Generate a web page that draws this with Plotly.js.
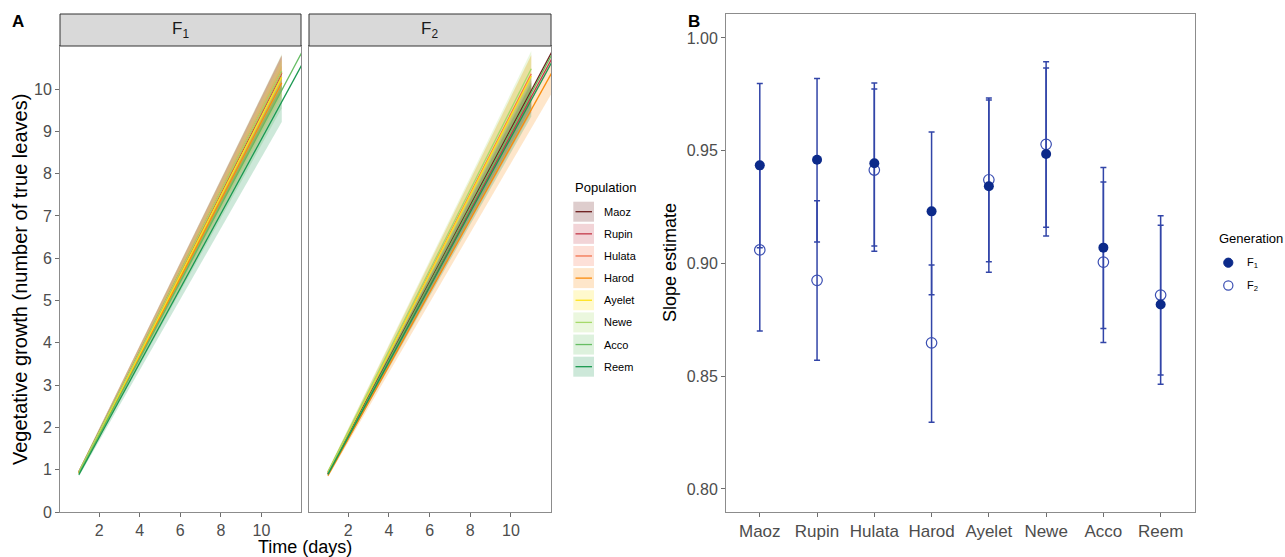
<!DOCTYPE html>
<html>
<head>
<meta charset="utf-8">
<script src="https://cdn.plot.ly/plotly-3.0.1.min.js"></script>
<style>html,body{margin:0;padding:0;background:#fff;}#chart{width:1285px;height:557px;}</style>
</head>
<body>
<div id="chart"></div>
<script>
// ---------- Data ----------
const populations = ['Maoz', 'Rupin', 'Hulata', 'Harod', 'Ayelet', 'Newe', 'Acco', 'Reem'];

// Panel A, F1: fitted lines (value at day 1 and at the last day) and ribbons
const f1LineStart  = [0.94, 0.95, 0.94, 0.92, 0.93, 0.95, 0.91, 0.88];
const f1LineEndDay = [11, 11, 11, 11, 11, 11, 12, 12];
const f1LineEnd    = [10.38, 10.41, 10.39, 10.15, 10.28, 10.43, 10.88, 10.58];
const f1RibEndDay  = [11, 11, 11, 11, 11, 11, 11, 11];
const f1RibLoStart = [0.90, 0.91, 0.90, 0.88, 0.89, 0.91, 0.87, 0.84];
const f1RibHiStart = [0.98, 0.99, 0.98, 0.96, 0.97, 0.99, 0.95, 0.92];
const f1RibLoEnd   = [9.95, 10.00, 9.98, 9.75, 9.86, 10.03, 9.55, 9.22];
const f1RibHiEnd   = [10.80, 10.80, 10.78, 10.55, 10.70, 10.83, 10.40, 10.10];

// Panel A, F2
const f2LineStart  = [0.91, 0.89, 0.94, 0.86, 0.94, 0.95, 0.90, 0.89];
const f2LineEndDay = [12, 12, 11, 12, 11, 11, 12, 12];
const f2LineEnd    = [10.87, 10.71, 10.36, 10.38, 10.31, 10.48, 10.81, 10.63];
const f2RibEndDay  = [11, 11, 11, 12, 11, 11, 11, 11];
const f2RibLoStart = [0.87, 0.85, 0.90, 0.82, 0.90, 0.91, 0.86, 0.85];
const f2RibHiStart = [0.95, 0.93, 0.98, 0.91, 0.98, 0.99, 0.94, 0.93];
const f2RibLoEnd   = [9.57, 9.45, 9.90, 9.90, 9.85, 10.00, 9.50, 9.35];
const f2RibHiEnd   = [10.37, 10.20, 10.80, 10.85, 10.80, 10.90, 10.30, 10.15];
const startDay = 1;

// Panel B: slope estimates with confidence limits
const f1Est = [0.9435, 0.9460, 0.9444, 0.9231, 0.9342, 0.9485, 0.9070, 0.8818];
const f1Lo  = [0.9070, 0.9095, 0.9077, 0.8861, 0.8961, 0.9122, 0.8712, 0.8464];
const f1Hi  = [0.9798, 0.9820, 0.9800, 0.9583, 0.9725, 0.9867, 0.9425, 0.9169];
const f2Est = [0.9060, 0.8925, 0.9414, 0.8648, 0.9371, 0.9528, 0.9006, 0.8860];
const f2Lo  = [0.8700, 0.8571, 0.9054, 0.8296, 0.9008, 0.9160, 0.8650, 0.8505];
const f2Hi  = [0.9420, 0.9278, 0.9774, 0.8993, 0.9734, 0.9894, 0.9361, 0.9212];

const xTicksA = [2, 4, 6, 8, 10];
const yTicksA = [0, 1, 2, 3, 4, 5, 6, 7, 8, 9, 10];
const yTicksB = [0.80, 0.85, 0.90, 0.95, 1.00];

// ---------- Styles ----------
const lineColors = ['#6b1d1d', '#c4394b', '#f4734f', '#fa8c0c', '#ffe21a', '#a6d96a', '#66bd63', '#1a9850'];
function rgba(hex, a) {
  const r = parseInt(hex.slice(1, 3), 16), g = parseInt(hex.slice(3, 5), 16), b = parseInt(hex.slice(5, 7), 16);
  return 'rgba(' + r + ',' + g + ',' + b + ',' + a + ')';
}
const FONT = 'Liberation Sans, Arial, sans-serif';
const W = 1285, H = 557;
const px = v => v / W;
const py = v => 1 - v / H;

const traces = [];
function addPanel(xa, ya, lS, lED, lE, rED, rLS, rHS, rLE, rHE) {
  populations.forEach((p, i) => {
    traces.push({
      type: 'scatter', mode: 'lines', xaxis: xa, yaxis: ya,
      x: [startDay, rED[i], rED[i], startDay],
      y: [rLS[i], rLE[i], rHE[i], rHS[i]],
      fill: 'toself', fillcolor: rgba(lineColors[i], 0.22),
      line: {width: 0}, showlegend: false, hoverinfo: 'skip'
    });
  });
  populations.forEach((p, i) => {
    traces.push({
      type: 'scatter', mode: 'lines', xaxis: xa, yaxis: ya, name: p,
      x: [startDay, lED[i]], y: [lS[i], lE[i]],
      line: {color: lineColors[i], width: 1.3}, showlegend: false
    });
  });
}
addPanel('x', 'y', f1LineStart, f1LineEndDay, f1LineEnd, f1RibEndDay, f1RibLoStart, f1RibHiStart, f1RibLoEnd, f1RibHiEnd);
addPanel('x2', 'y2', f2LineStart, f2LineEndDay, f2LineEnd, f2RibEndDay, f2RibLoStart, f2RibHiStart, f2RibLoEnd, f2RibHiEnd);

const barColor = '#3245a8';
traces.push({
  type: 'scatter', mode: 'markers', xaxis: 'x3', yaxis: 'y3', name: 'F2',
  x: populations, y: f2Est,
  error_y: {type: 'data', symmetric: false,
    array: f2Hi.map((h, i) => h - f2Est[i]), arrayminus: f2Lo.map((l, i) => f2Est[i] - l),
    color: barColor, thickness: 1.5, width: 3},
  marker: {symbol: 'circle-open', size: 10.5, color: '#3a4eb2', line: {width: 1.2}},
  showlegend: false
});
traces.push({
  type: 'scatter', mode: 'markers', xaxis: 'x3', yaxis: 'y3', name: 'F1',
  x: populations, y: f1Est,
  error_y: {type: 'data', symmetric: false,
    array: f1Hi.map((h, i) => h - f1Est[i]), arrayminus: f1Lo.map((l, i) => f1Est[i] - l),
    color: barColor, thickness: 1.5, width: 3},
  marker: {symbol: 'circle', size: 10, color: '#0c2a8a'},
  showlegend: false
});

// ---------- Layout ----------
const axisCommon = {
  showline: true, mirror: true, linecolor: '#8c8c8c', linewidth: 1,
  ticks: 'outside', ticklen: 4, tickcolor: '#6e6e6e', tickwidth: 1,
  showgrid: false, zeroline: false,
  tickfont: {family: FONT, size: 16, color: '#4d4d4d'}
};
const yA = [0, 11.02];
const layout = {
  width: W, height: H, autosize: false,
  margin: {l: 0, r: 0, t: 0, b: 0},
  paper_bgcolor: '#ffffff', plot_bgcolor: '#ffffff',
  font: {family: FONT, color: '#000'},
  showlegend: false,
  xaxis: Object.assign({}, axisCommon, {domain: [px(60), px(301)], range: [0.07, 11.95], tickvals: xTicksA, anchor: 'y'}),
  yaxis: Object.assign({}, axisCommon, {domain: [1 - 512 / H, 1 - 46 / H], range: yA, tickvals: yTicksA, anchor: 'x'}),
  xaxis2: Object.assign({}, axisCommon, {domain: [px(309), px(551)], range: [0.07, 11.97], tickvals: xTicksA, anchor: 'y2'}),
  yaxis2: Object.assign({}, axisCommon, {domain: [1 - 512 / H, 1 - 46 / H], range: yA, tickvals: yTicksA, showticklabels: false, ticks: '', anchor: 'x2'}),
  xaxis3: Object.assign({}, axisCommon, {domain: [px(726), px(1195)], type: 'category', range: [-0.59, 7.6], anchor: 'y3',
    tickfont: {family: FONT, size: 17, color: '#4d4d4d'}}),
  yaxis3: Object.assign({}, axisCommon, {domain: [1 - 512 / H, 1 - 14 / H], range: [0.7898, 1.0106], tickvals: yTicksB, tickformat: '.2f', anchor: 'x3'}),
  shapes: [],
  annotations: []
};

// facet strips
[[60, 301, 'F<sub>1</sub>'], [309, 551, 'F<sub>2</sub>']].forEach(s => {
  layout.shapes.push({type: 'rect', xref: 'paper', yref: 'paper', x0: px(s[0]), x1: px(s[1]), y0: py(46), y1: py(14),
    fillcolor: '#d9d9d9', line: {color: '#333333', width: 1}});
  layout.annotations.push({xref: 'paper', yref: 'paper', x: px((s[0] + s[1]) / 2), y: py(30), text: s[2], showarrow: false,
    xanchor: 'center', yanchor: 'middle', font: {family: FONT, size: 17, color: '#1a1a1a'}});
});

// titles
const ann = (x, y, text, opts) => layout.annotations.push(Object.assign({xref: 'paper', yref: 'paper', x: px(x), y: py(y), text: text,
  showarrow: false, xanchor: 'center', yanchor: 'middle', font: {family: FONT, size: 18, color: '#000'}}, opts || {}));
ann(18, 22, '<b>A</b>', {font: {family: FONT, size: 17, color: '#000'}});
ann(694, 21, '<b>B</b>', {font: {family: FONT, size: 17, color: '#000'}});
ann(305, 546.5, 'Time (days)');
ann(20, 280, 'Vegetative growth (number of true leaves)', {textangle: -90, font: {family: FONT, size: 20, color: '#000'}});
ann(670, 263, 'Slope estimate', {textangle: -90});

// Population legend (manual)
ann(573, 187, 'Population', {xanchor: 'left', font: {family: FONT, size: 13, color: '#000'}});
populations.forEach((p, i) => {
  const top = 201.7 + i * 22.14, bot = top + 20, mid = (top + bot) / 2;
  layout.shapes.push({type: 'rect', xref: 'paper', yref: 'paper', x0: px(573.3), x1: px(594), y0: py(bot), y1: py(top),
    fillcolor: rgba(lineColors[i], 0.22), line: {width: 0}});
  layout.shapes.push({type: 'line', xref: 'paper', yref: 'paper', x0: px(575.5), x1: px(592), y0: py(mid), y1: py(mid),
    line: {color: lineColors[i], width: 1.3}});
  ann(601.5, mid, p, {xanchor: 'left', font: {family: FONT, size: 11, color: '#000'}});
});

// Generation legend (manual)
ann(1217, 238, 'Generation', {xanchor: 'left', font: {family: FONT, size: 13, color: '#000'}});
const r = 4.6;
layout.shapes.push({type: 'circle', xref: 'paper', yref: 'paper', x0: px(1228.3 - r), x1: px(1228.3 + r), y0: py(262.7 + r), y1: py(262.7 - r),
  fillcolor: '#0c2a8a', line: {color: '#0c2a8a', width: 1}});
layout.shapes.push({type: 'circle', xref: 'paper', yref: 'paper', x0: px(1228.3 - r), x1: px(1228.3 + r), y0: py(285.5 + r), y1: py(285.5 - r),
  fillcolor: 'rgba(0,0,0,0)', line: {color: '#3a4eb2', width: 1.2}});
ann(1245, 263, 'F<sub>1</sub>', {xanchor: 'left', font: {family: FONT, size: 11, color: '#000'}});
ann(1245, 285.5, 'F<sub>2</sub>', {xanchor: 'left', font: {family: FONT, size: 11, color: '#000'}});

Plotly.newPlot('chart', traces, layout, {staticPlot: true, displayModeBar: false});
</script>
</body>
</html>
